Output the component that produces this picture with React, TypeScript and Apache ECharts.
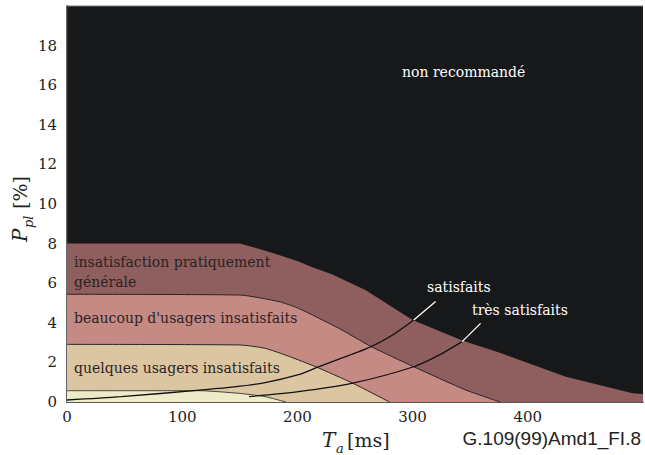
import React, { useEffect, useRef } from "react";
import * as echarts from "echarts";

// Region boundaries: T_a [ms] -> P_pl [%]
const outerX = [0, 150, 170, 184, 201, 213, 230, 259, 300, 343, 375, 433, 491, 500];
const outerY = [8, 8, 7.68, 7.42, 7.1, 6.8, 6.45, 5.66, 4.14, 3.1, 2.5, 1.28, 0.44, 0.4];

const midX = [0, 150, 184, 201, 236, 264, 301, 346, 376];
const midY = [5.44, 5.4, 5.07, 4.73, 3.72, 2.8, 1.78, 0.61, 0];

const lowX = [0, 150, 172, 193, 216, 227, 248, 280];
const lowY = [2.91, 2.88, 2.71, 2.3, 1.78, 1.5, 0.95, 0];

const innerX = [0, 115, 149, 172, 190];
const innerY = [0.57, 0.57, 0.44, 0.27, 0];

// User satisfaction curves
const satX = [0, 47, 115, 145, 172, 201, 216, 240, 264, 283, 301];
const satY = [0.1, 0.27, 0.6, 0.76, 0.98, 1.38, 1.72, 2.25, 2.8, 3.4, 4.14];
const satTailX = [301, 320];
const satTailY = [4.14, 5.07];

const tresX = [158, 201, 248, 301, 323, 343];
const tresY = [0.27, 0.52, 0.95, 1.78, 2.37, 3.05];
const tresTailX = [343, 359];
const tresTailY = [3.05, 3.97];

const xMax = 500;
const yMax = 20;

const pts = (xs: number[], ys: number[]) => xs.map((x, i) => [x, ys[i]]);

const SERIF = "DejaVu Serif";
const SANS = "Arial";

function txt(text: string, x: number, y: number, size: number, fill: string, extra: any = {}) {
  return {
    type: "text",
    x,
    y,
    silent: true,
    z: 100,
    style: {
      text,
      fill,
      fontFamily: extra.family || SERIF,
      fontSize: size,
      fontStyle: extra.italic ? "italic" : "normal",
      textAlign: extra.align || "left",
      textVerticalAlign: "middle",
    },
  };
}

export default function App() {
  const ref = useRef<HTMLDivElement>(null);
  useEffect(() => {
    if (!ref.current) return;
    document.body.style.margin = "0";
    const chart = echarts.init(ref.current, undefined, { renderer: "svg" });
    const dark = "#262626";
    const inText = "#2a2424";
    chart.setOption({
      animation: false,
      grid: {
        left: 67,
        right: 2,
        top: 6,
        bottom: 53,
        show: true,
        backgroundColor: "#17181a",
        borderWidth: 0,
      },
      xAxis: {
        type: "value",
        min: 0,
        max: xMax,
        interval: 100,
        axisLine: { show: true, lineStyle: { color: "#222", width: 1.5 } },
        axisTick: { show: false },
        splitLine: { show: false },
        axisLabel: {
          color: "#222",
          fontFamily: SERIF,
          fontSize: 15,
          margin: 7,
          showMaxLabel: false,
        },
      },
      yAxis: {
        type: "value",
        min: 0,
        max: yMax,
        interval: 2,
        axisLine: { show: true, lineStyle: { color: "#333", width: 1.5 } },
        axisTick: { show: false },
        splitLine: { show: false },
        axisLabel: {
          color: "#222",
          fontFamily: SERIF,
          fontSize: 15,
          margin: 10,
          showMaxLabel: false,
        },
      },
      series: [
        {
          type: "line",
          data: pts(outerX, outerY),
          symbol: "none",
          lineStyle: { width: 0 },
          areaStyle: { color: "#8f5e5e", opacity: 1 },
          z: 2,
        },
        {
          type: "line",
          data: pts(midX, midY),
          symbol: "none",
          smooth: 0.2,
          lineStyle: { color: dark, width: 1 },
          areaStyle: { color: "#c68a85", opacity: 1 },
          z: 3,
        },
        {
          type: "line",
          data: pts(lowX, lowY),
          symbol: "none",
          smooth: 0.2,
          lineStyle: { color: dark, width: 1 },
          areaStyle: { color: "#dbc6a1", opacity: 1 },
          z: 4,
        },
        {
          type: "line",
          data: pts(innerX, innerY),
          symbol: "none",
          smooth: 0.2,
          lineStyle: { color: "#444", width: 1 },
          areaStyle: { color: "#eeecc8", opacity: 1 },
          z: 5,
        },
        {
          type: "line",
          data: pts(satX, satY),
          symbol: "none",
          smooth: 0.3,
          lineStyle: { color: "#111", width: 1.3 },
          z: 6,
        },
        {
          type: "line",
          data: pts(satTailX, satTailY),
          symbol: "none",
          lineStyle: { color: "#fff", width: 1.3 },
          z: 6,
        },
        {
          type: "line",
          data: pts(tresX, tresY),
          symbol: "none",
          smooth: 0.3,
          lineStyle: { color: "#111", width: 1.3 },
          z: 6,
        },
        {
          type: "line",
          data: pts(tresTailX, tresTailY),
          symbol: "none",
          lineStyle: { color: "#fff", width: 1.3 },
          z: 6,
        },
      ],
      graphic: [
        {
          type: "line",
          silent: true,
          shape: { x1: 67, y1: 6, x2: 643, y2: 6 },
          style: { stroke: "#777", lineWidth: 1 },
          z: 50,
        },
        txt("non recommandé", 402, 72, 14, "#ffffff"),
        txt("insatisfaction pratiquement", 74, 262, 14, inText),
        txt("générale", 74, 282, 14, inText),
        txt("beaucoup d'usagers insatisfaits", 74, 318, 14, inText),
        txt("quelques usagers insatisfaits", 74, 368, 14, inText),
        txt("satisfaits", 427, 287, 14, "#ffffff"),
        txt("très satisfaits", 472, 310, 14, "#ffffff"),
        // x-axis name
        txt("T", 322, 440, 20, "#222", { italic: true }),
        txt("a", 336, 448, 13, "#222", { italic: true }),
        txt("[ms]", 347, 440, 19, "#222"),
        txt("G.109(99)Amd1_FI.8", 641, 438, 19, "#222", {
          family: SANS,
          align: "right",
        }),
        // y-axis name (rotated)
        {
          type: "group",
          x: 22,
          y: 206,
          rotation: Math.PI / 2,
          z: 100,
          children: [
            txt("P", -36, -2, 20, "#222", { italic: true }),
            txt("pl", -22, 6, 13, "#222", { italic: true }),
            txt("[%]", -3, -2, 19, "#222"),
          ],
        },
      ],
    });
    return () => chart.dispose();
  }, []);
  return <div ref={ref} style={{ width: 645, height: 455 }} />;
}
